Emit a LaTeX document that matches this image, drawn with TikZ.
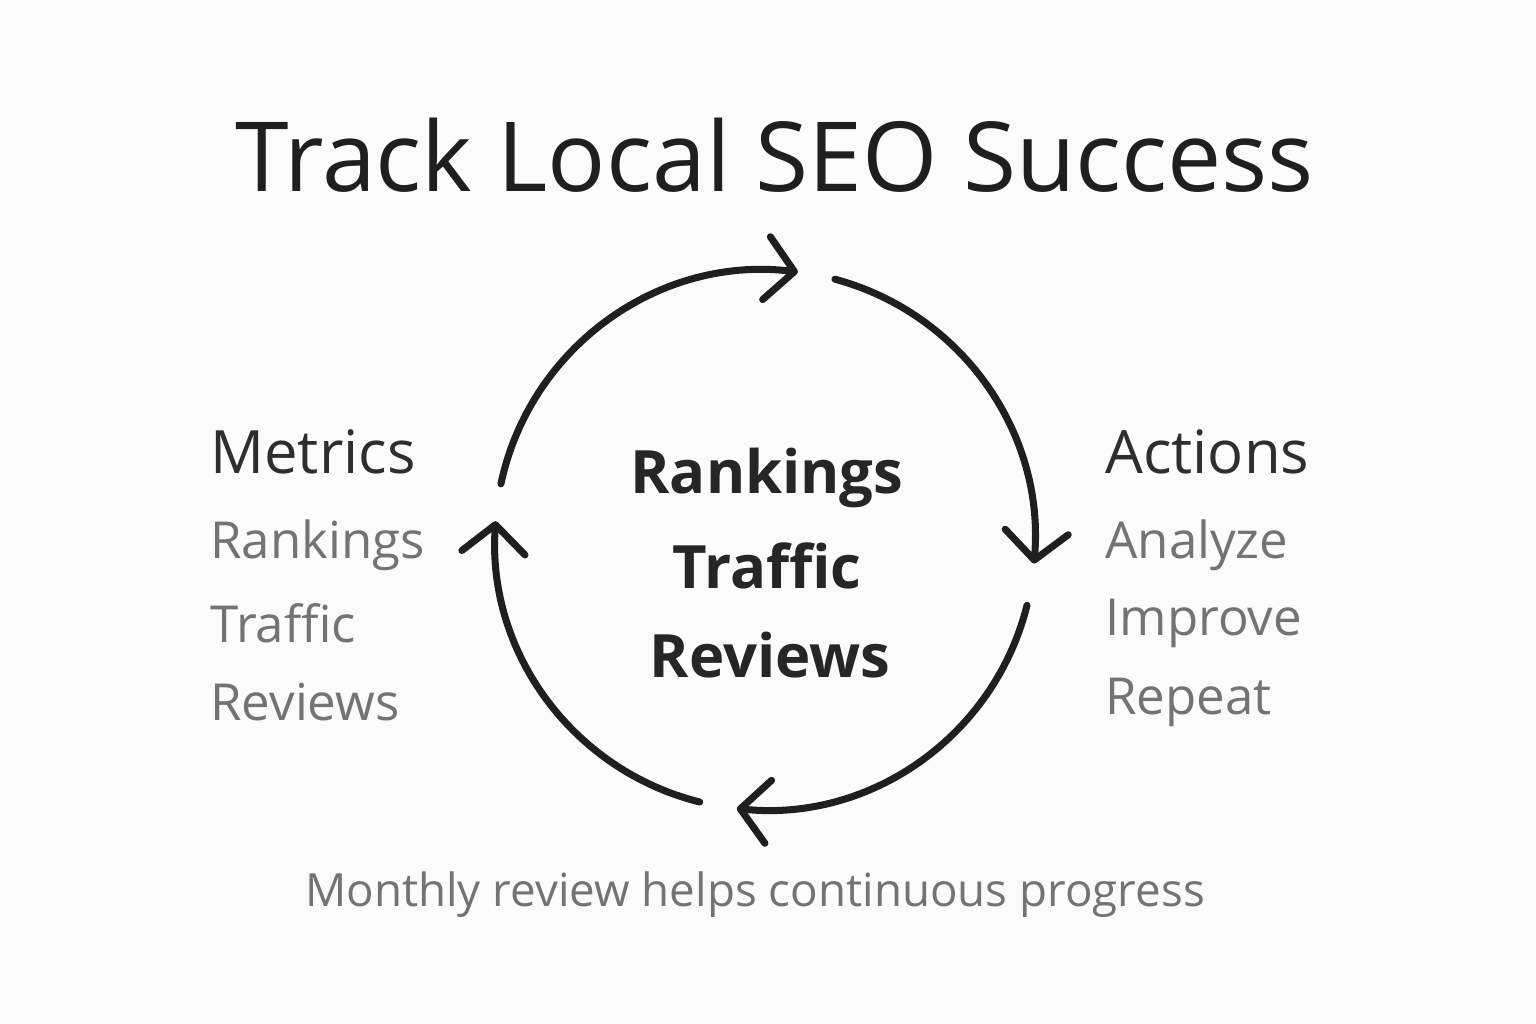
\documentclass[tikz,border=0pt]{standalone}
\usepackage{fontspec}
\setmainfont{Open Sans}
\usetikzlibrary{arrows.meta}
\begin{document}
\begin{tikzpicture}[x=0.01cm,y=-0.01cm,
  cyc/.style={line width=2pt,color=black!88,line cap=round,-{Straight Barb[length=8pt,width=18pt,line width=2pt,round]}},
  hd/.style={font=\fontsize{17}{20}\selectfont,text=black!82,anchor=west},
  it/.style={font=\fontsize{14.5}{18}\selectfont,text=black!55,anchor=west},
  ctr/.style={font=\fontsize{17}{20}\selectfont\bfseries,text=black!85}]
\fill[white!97!gray] (0,0) rectangle (1536,1024);
\node[font=\fontsize{27.5}{32}\selectfont,text=black!88] (title) at (775,155) {Track Local SEO Success};
\coordinate (c) at (765,540);
\draw[cyc] ([shift={(-168:270)}]c) arc[start angle=-168,end angle=-83,radius=270];
\draw[cyc] ([shift={(-75:270)}]c) arc[start angle=-75,end angle=5,radius=270];
\draw[cyc] ([shift={(14:270)}]c) arc[start angle=14,end angle=96,radius=270];
\draw[cyc] ([shift={(104:270)}]c) arc[start angle=104,end angle=184,radius=270];
\node[ctr] (c1) at (767,478) {Rankings};
\node[ctr] (c2) at (767,566) {Traffic};
\node[ctr] (c3) at (770,655) {Reviews};
\node[hd] (m) at (198,452) {Metrics};
\node[it] (m1) at (198,545) {Rankings};
\node[it] (m2) at (198,623) {Traffic};
\node[it] (m3) at (198,702) {Reviews};
\node[hd] (a) at (1093,452) {Actions};
\node[it] (a1) at (1093,545) {Analyze};
\node[it] (a2) at (1093,623) {Improve};
\node[it] (a3) at (1093,702) {Repeat};
\node[font=\fontsize{13}{16}\selectfont,text=black!55] (f) at (755,895) {Monthly review helps continuous progress};
\end{tikzpicture}
\end{document}
